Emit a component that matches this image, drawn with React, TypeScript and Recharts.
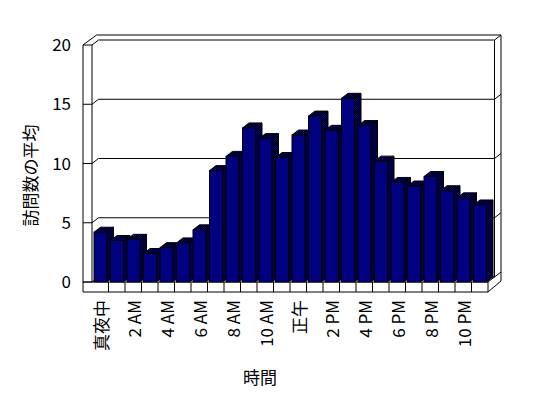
import { BarChart, Bar, XAxis, YAxis, CartesianGrid } from "recharts";

// hours of the day (labels shown every other one)
const hours = [
    "真夜中", "1 AM", "2 AM", "3 AM", "4 AM", "5 AM", "6 AM", "7 AM", "8 AM", "9 AM", "10 AM", "11 AM",
    "正午", "1 PM", "2 PM", "3 PM", "4 PM", "5 PM", "6 PM", "7 PM", "8 PM", "9 PM", "10 PM", "11 PM",
];

// average number of visits per hour
const visits = [
    4.2, 3.5, 3.6, 2.4, 2.9, 3.3, 4.4, 9.4, 10.6, 13.0, 12.1, 10.5,
    12.4, 14.0, 12.8, 15.5, 13.2, 10.2, 8.4, 8.1, 8.9, 7.7, 7.1, 6.5,
];

const yTicks = [0, 5, 10, 15, 20];

const data = hours.map((hour, i) => ({ hour, visits: visits[i] }));

// layout
const W = 548;
const H = 398;
const M = { top: 45, right: 60, bottom: 0, left: 0 };
const Y_AXIS_W = 92;
const X_AXIS_H = 116;
const PL = M.left + Y_AXIS_W;
const PR = W - M.right;
const PT = M.top;
const PB = H - X_AXIS_H;
const DX = 6.5; // 3d depth
const DY = 5;
const WALL = 9;
const FLOOR = 10;
const FONT = '"Noto Sans CJK JP", "Noto Sans", sans-serif';
const NAVY = "#000080";

function Bar3D(props: any) {
    const { x, y, width: w, height: h } = props;
    if (!h || h <= 0) return null;
    return (
        <g stroke="#000" strokeWidth={1}>
            <polygon
                points={`${x + w},${y} ${x + w + DX},${y - DY} ${x + w + DX},${y + h - DY} ${x + w},${y + h}`}
                fill="url(#dither)"
            />
            <polygon
                points={`${x},${y} ${x + DX},${y - DY} ${x + w + DX},${y - DY} ${x + w},${y}`}
                fill="url(#dither)"
            />
            <rect x={x} y={y} width={w} height={h} fill={NAVY} />
        </g>
    );
}

// grid line on the back wall, continued over the side walls
function WallLine(props: any) {
    const { x1, x2, y1, key } = props;
    const y = y1;
    return (
        <g key={key} stroke="#000" strokeWidth={1} fill="none">
            <line x1={PL - WALL} y1={y} x2={x1} y2={y} />
            <line x1={x1} y1={y} x2={x1 + DX} y2={y - DY} />
            <line x1={x1 + DX} y1={y - DY} x2={x2 + DX} y2={y - DY} />
            <line x1={x2 + DX} y1={y - DY} x2={x2 + 2 * DX} y2={y - 2 * DY} />
        </g>
    );
}

function HourTick(props: any) {
    const { x, y, payload } = props;
    return (
        <text
            transform={`translate(${x},${y}) rotate(-90)`}
            textAnchor="end"
            dominantBaseline="central"
            fontSize={17}
            fontFamily={FONT}
            fill="#000"
        >
            {payload.value}
        </text>
    );
}

function Frame() {
    const band = (PR - PL) / hours.length;
    const dividers = hours.map((_, i) => PL + band * (i + 1));
    return (
        <svg width={W} height={H} style={{ position: "absolute", left: 0, top: 0 }}>
            <defs>
                <pattern id="dither" width="2" height="2" patternUnits="userSpaceOnUse">
                    <rect width="2" height="2" fill="#000" />
                    <rect x="0" y="0" width="1" height="1" fill={NAVY} />
                    <rect x="1" y="1" width="1" height="1" fill={NAVY} />
                </pattern>
            </defs>
            <g stroke="#000" strokeWidth={1} fill="none">
                <path
                    d={`M${PL - WALL},${PB + FLOOR} V${PT} L${PL + DX - 2},${PT - 2 * DY} H${PR + 2 * DX} V${PB - 1} L${PR},${PB + FLOOR} Z`}
                    fill="#fff"
                />
                <line x1={PL} y1={PT} x2={PL} y2={PB} />
                <line x1={PR + DX} y1={PT - DY} x2={PR + DX} y2={PB - DY} />
                <line x1={PL - WALL} y1={PB} x2={PR} y2={PB} />
                <line x1={PR} y1={PB} x2={PR + DX} y2={PB - DY} />
                {dividers.map((dx, i) => (
                    <line key={i} x1={dx} y1={PB} x2={dx} y2={PB + FLOOR} />
                ))}
            </g>
            <text
                transform={`translate(29,${(PT + PB) / 2 + 12}) rotate(-90)`}
                textAnchor="middle"
                dominantBaseline="central"
                fontSize={17}
                fontFamily={FONT}
            >
                訪問数の平均
            </text>
            <text x={260} y={376} textAnchor="middle" dominantBaseline="central" fontSize={17} fontFamily={FONT}>
                時間
            </text>
        </svg>
    );
}

export default function App() {
    return (
        <div style={{ position: "absolute", left: 0, top: 0, width: W, height: H, background: "#fff" }}>
            <Frame />
            <div style={{ position: "absolute", left: 0, top: 0 }}>
                <BarChart width={W} height={H} data={data} margin={M}>
                    <CartesianGrid vertical={false} horizontal={WallLine} />
                    <XAxis
                        dataKey="hour"
                        interval={1}
                        height={X_AXIS_H}
                        axisLine={false}
                        tickLine={false}
                        tickSize={0}
                        tickMargin={18}
                        tick={HourTick}
                    />
                    <YAxis
                        domain={[0, 20]}
                        ticks={yTicks}
                        width={Y_AXIS_W}
                        axisLine={false}
                        tickLine={false}
                        tickSize={0}
                        tickMargin={21}
                        tick={{ fill: "#000", fontSize: 17, fontFamily: FONT }}
                    />
                    <Bar dataKey="visits" barSize={13} shape={Bar3D} isAnimationActive={false} />
                </BarChart>
            </div>
        </div>
    );
}
